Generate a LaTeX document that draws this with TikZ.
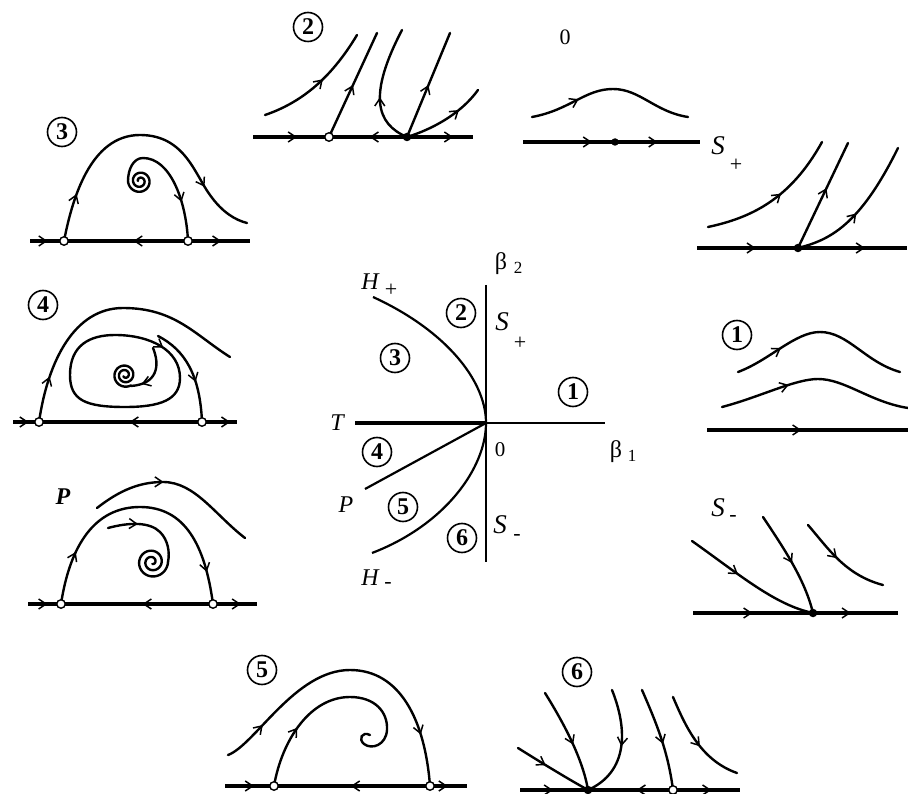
\documentclass[tikz,border=0pt]{standalone}
\usepackage{fontspec}
\setmainfont{Liberation Serif}
\usetikzlibrary{arrows.meta,decorations.markings}
\tikzset{
  traj/.style={line width=2.4pt,line cap=round},
  axisl/.style={line width=3.2pt},
  cline/.style={line width=2.2pt},
  mid/.style={postaction={decorate,decoration={markings,mark=at position #1 with {\arrow{Straight Barb[length=7.5pt,width=10pt,line width=1.5pt]}}}}},
  rmid/.style={postaction={decorate,decoration={markings,mark=at position #1 with {\arrowreversed{Straight Barb[length=7.5pt,width=10pt,line width=1.5pt]}}}}},
  saddle/.style={circle,draw,fill=white,line width=1.4pt,inner sep=0pt,minimum size=8.5pt},
  nodept/.style={circle,fill=black,inner sep=0pt,minimum size=8.5pt},
  smalldot/.style={circle,fill=black,inner sep=0pt,minimum size=7.5pt},
  numc/.style={circle,draw,line width=1.6pt,inner sep=0pt,minimum size=29pt,font=\fontsize{24}{24}\selectfont\bfseries},
  lab/.style={font=\fontsize{24}{24}\selectfont\itshape,inner sep=0pt},
  slab/.style={font=\fontsize{27}{27}\selectfont\itshape,inner sep=0pt},
  sublab/.style={font=\fontsize{22}{22}\selectfont,inner sep=0pt},
  plainlab/.style={font=\fontsize{21}{21}\selectfont,inner sep=0pt},
}
\begin{document}
\begin{tikzpicture}[x=1pt,y=-1pt]
\useasboundingbox (0,0) rectangle (908,794);

% ================= central diagram =================
\draw[cline] (486,285) -- (486,562);
\draw[line width=3.8pt] (355,423) -- (486,423);
\draw[cline] (486,423) -- (605,423);
\draw[cline] (486,423) .. controls (486,380) and (445,330) .. (373,297);
\draw[cline] (486,423) .. controls (486,468) and (445,525) .. (372,553);
\draw[cline] (486,423) -- (365,489);
\node[lab] (cT) at (337,423) {T};
\node[lab] (cH) at (370,282) {H};
\node[sublab] (cHp) at (391,290) {+};
\node[lab] (cHm) at (370,578) {H};
\node[sublab] (cHmm) at (388,585) {-};
\node[lab] (cP) at (346,505) {P};
\node[slab] (cS) at (502,322) {S};
\node[sublab] (cSp) at (520,343) {+};
\node[slab] (cSm) at (500,525) {S};
\node[sublab] (cSmm) at (517,537) {-};
\node[plainlab,font=\fontsize{24}{24}\selectfont] (cb2) at (501,264) {β};
\node[sublab,font=\fontsize{17}{17}\selectfont] (cb2s) at (518,268) {2};
\node[plainlab,font=\fontsize{24}{24}\selectfont] (cb1) at (616,452) {β};
\node[sublab,font=\fontsize{17}{17}\selectfont] (cb1s) at (632,456) {1};
\node[plainlab] (c0) at (500,450) {0};
\node[numc] (r2) at (461,313) {2};
\node[numc] (r3) at (395,358) {3};
\node[numc] (r1) at (573,392) {1};
\node[numc] (r4) at (377,452) {4};
\node[numc] (r5) at (403,507) {5};
\node[numc] (r6) at (462,538) {6};

% ================= panel 2 =================
\node[numc] (p2) at (308,27) {2};
\draw[axisl,mid=0.2,rmid=0.53,mid=0.91] (253,137) -- (473,137);
\draw[traj,mid=0.55] (265,115) .. controls (300,103) and (330,80) .. (357,35);
\draw[traj,mid=0.5] (329,137) -- (377,33);
\draw[traj,mid=0.42] (407,137) .. controls (376,124) and (368,95) .. (402,30);
\draw[traj,mid=0.5] (407,137) -- (450,33);
\draw[traj,mid=0.68] (407,137) .. controls (430,130) and (460,115) .. (478,90);
\node[saddle] (p2s) at (329,137) {};
\node[nodept] (p2n) at (407,137) {};

% ================= panel 0 =================
\node[plainlab,font=\fontsize{22}{22}\selectfont] (p0) at (565,37) {0};
\draw[axisl,mid=0.39,mid=0.76] (523,142) -- (700,142);
\node[smalldot] (p0d) at (615,142) {};
\draw[traj,mid=0.3] (532,117) .. controls (570,110) and (585,89) .. (613,89) .. controls (640,89) and (655,112) .. (688,117);
\node[slab] (pSp) at (718,146) {S};
\node[sublab] (pSpp) at (736,165) {+};

% ================= panel S+ =================
\draw[axisl,mid=0.28,mid=0.8] (697,248) -- (907,248);
\draw[traj,mid=0.55] (708,227) .. controls (750,218) and (790,200) .. (822,142);
\draw[traj,mid=0.57] (798,248) -- (848,143);
\draw[traj,mid=0.47] (798,248) .. controls (830,240) and (860,225) .. (898,148);
\node[nodept] (pSpn) at (798,248) {};

% ================= panel 1 =================
\node[numc] (p1) at (737,335) {1};
\draw[traj,mid=0.27] (738,372) .. controls (770,360) and (795,332) .. (820,332) .. controls (848,332) and (865,362) .. (900,372);
\draw[traj,mid=0.36] (722,407) .. controls (760,397) and (795,379) .. (818,379) .. controls (845,379) and (870,402) .. (908,408);
\draw[axisl,mid=0.47] (707,430) -- (908,430);

% ================= panel S- =================
\node[slab] (pSm) at (718,508) {S};
\node[sublab] (pSmm) at (733,518) {-};
\draw[axisl,mid=0.29,mid=0.77] (693,613) -- (898,613);
\draw[traj,mid=0.4] (692,541) .. controls (740,575) and (775,605) .. (813,613);
\draw[traj,mid=0.5] (763,517) .. controls (785,550) and (805,580) .. (813,613);
\draw[traj,mid=0.45] (808,525) .. controls (828,548) and (845,575) .. (883,585);
\node[nodept] (pSmn) at (813,613) {};

% ================= panel 3 =================
\node[numc] (p3) at (62,132) {3};
\draw[axisl,mid=0.08,rmid=0.47,mid=0.87] (30,241) -- (250,241);
\draw[traj,mid=0.17,mid=0.8] (64,241) .. controls (72,200) and (90,135) .. (140,135) .. controls (185,135) and (195,175) .. (210,195) .. controls (222,212) and (235,220) .. (247,223);
\draw[traj,rmid=0.3] (188,241) .. controls (186,200) and (170,158) .. (143,158) .. controls (133,158) and (128,170) .. (128,181);
\draw[traj] plot[domain=0:720,samples=150,smooth] ({140+(12-\x/72)*cos(180-\x)},{181+(12-\x/72)*sin(180-\x)});
\node[saddle] (p3a) at (64,241) {};
\node[saddle] (p3b) at (188,241) {};

% ================= panel 4 =================
\node[numc] (p4) at (43,305) {4};
\draw[axisl,mid=0.07,rmid=0.52,mid=0.97] (13,422) -- (237,422);
\draw[traj,mid=0.17] (39,422) .. controls (48,360) and (75,308) .. (123,308) .. controls (175,308) and (195,335) .. (230,357);
\draw[traj,mid=0.6] (158,336) .. controls (185,350) and (200,375) .. (202,422);
\draw[traj,mid=0.4] (70,375) .. controls (70,345) and (90,335) .. (115,335) .. controls (150,335) and (180,350) .. (180,378) .. controls (180,400) and (160,407) .. (125,407) .. controls (85,407) and (70,400) .. (70,375) -- cycle;
\draw[traj,mid=0.8] (153,348) .. controls (160,365) and (158,384) .. (131,386);
\draw[traj] plot[domain=0:800,samples=160,smooth] ({125+(12-\x/80)*cos(60+\x)},{375+(12-\x/80)*sin(60+\x)});
\node[saddle] (p4a) at (39,422) {};
\node[saddle] (p4b) at (202,422) {};

% ================= panel P =================
\node[lab] (pP) at (63,497) {\bfseries P};
\draw[axisl,mid=0.085,rmid=0.5,mid=0.93] (28,604) -- (257,604);
\draw[traj,mid=0.42] (97,508) .. controls (120,490) and (140,482) .. (163,482) .. controls (195,482) and (215,515) .. (245,538);
\draw[traj,mid=0.2,mid=0.88] (61,604) .. controls (70,545) and (95,507) .. (140,507) .. controls (185,507) and (205,545) .. (213,604);
\draw[traj,mid=0.35] (108,528) .. controls (130,522) and (150,522) .. (160,532) .. controls (168,540) and (170,552) .. (168,562);
\draw[traj] plot[domain=0:800,samples=160,smooth] ({152+(16-\x/57)*cos(\x)},{562+(16-\x/57)*sin(\x)});
\node[saddle] (pPa) at (61,604) {};
\node[saddle] (pPb) at (213,604) {};

% ================= panel 5 =================
\node[numc] (p5) at (262,670) {5};
\draw[axisl,mid=0.12,rmid=0.52,mid=0.92] (225,786) -- (467,786);
\draw[traj,mid=0.15,mid=0.83] (228,755) .. controls (255,745) and (295,670) .. (350,670) .. controls (400,670) and (425,720) .. (430,786);
\draw[traj,mid=0.27] (274,786) .. controls (282,740) and (310,697) .. (350,697) .. controls (375,697) and (388,712) .. (387,730) .. controls (386,745) and (372,750) .. (364,744) .. controls (358,739) and (362,731) .. (370,735);
\node[saddle] (p5a) at (274,786) {};
\node[saddle] (p5b) at (430,786) {};

% ================= panel 6 =================
\node[numc] (p6) at (577,672) {6};
\draw[axisl,mid=0.15,rmid=0.53,mid=0.87] (520,790) -- (740,790);
\draw[traj,mid=0.4] (518,748) .. controls (545,765) and (570,780) .. (588,790);
\draw[traj,mid=0.55] (545,693) .. controls (565,725) and (583,760) .. (588,790);
\draw[traj,mid=0.5] (612,690) .. controls (628,730) and (628,772) .. (588,790);
\draw[traj,mid=0.55] (642,690) .. controls (655,720) and (668,750) .. (673,790);
\draw[traj,mid=0.55] (673,697) .. controls (685,725) and (700,760) .. (737,773);
\node[nodept] (p6n) at (588,790) {};
\node[saddle] (p6s) at (673,790) {};
\end{tikzpicture}
\end{document}
